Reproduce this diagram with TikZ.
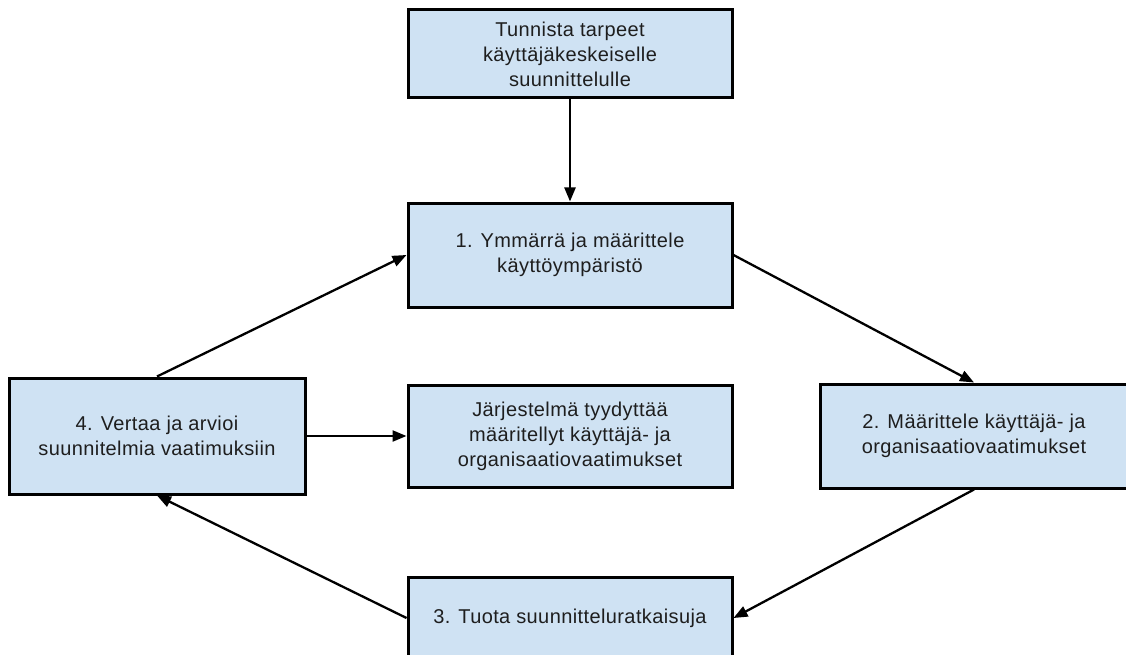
\documentclass[tikz,border=0pt]{standalone}
\usepackage{fontspec}
\setmainfont{Liberation Sans}[LetterSpace=2]
\usepackage{xcolor}
\usetikzlibrary{arrows.meta}
\definecolor{boxblue}{HTML}{CFE2F3}
\definecolor{boxtext}{HTML}{1E1E1E}

\begin{document}
\begin{tikzpicture}[x=1pt, y=-1pt, >={Triangle[length=14pt,width=11pt]}, line width=2.3pt]
\tikzstyle{vaihe}=[rectangle, draw, line width=3pt, fill=boxblue, text=boxtext, align=center,
  font=\fontsize{20}{25}\selectfont, minimum width=324pt, inner sep=4pt]
\useasboundingbox (0,0) rectangle (1126,655);
\node[vaihe, minimum height=88pt] (tarve) at (570,54) {Tunnista tarpeet\\käyttäjäkeskeiselle\\suunnittelulle};
\node[vaihe, minimum height=104pt, node distance=201pt, below of=tarve] (ymmarra) {1. Ymmärrä ja määrittele\\käyttöympäristö};
\node[vaihe, minimum height=102pt, node distance=181pt, below of=ymmarra] (jarjestelma) {Järjestelmä tyydyttää\\määritellyt käyttäjä- ja\\organisaatiovaatimukset};
\node[vaihe, minimum height=82pt, node distance=182pt, below of=jarjestelma] (tuota) {3. Tuota suunnitteluratkaisuja};
\node[vaihe, minimum width=296pt, minimum height=116pt, node distance=413pt, left of=jarjestelma] (vertaa) {4. Vertaa ja arvioi\\suunnitelmia vaatimuksiin};
\node[vaihe, minimum width=308pt, minimum height=104pt, node distance=404pt, right of=jarjestelma] (maarittele) {2. Määrittele käyttäjä- ja\\organisaatiovaatimukset};
\path[->] (tarve) edge (ymmarra);
\path[->] (ymmarra.east) edge (maarittele.north);
\path[->] (maarittele.south) edge (tuota.east);
\path[->] (tuota.west) edge (vertaa.south);
\path[->] (vertaa.north) edge (ymmarra.west);
\path[->] (vertaa) edge (jarjestelma);
\end{tikzpicture}
\end{document}
